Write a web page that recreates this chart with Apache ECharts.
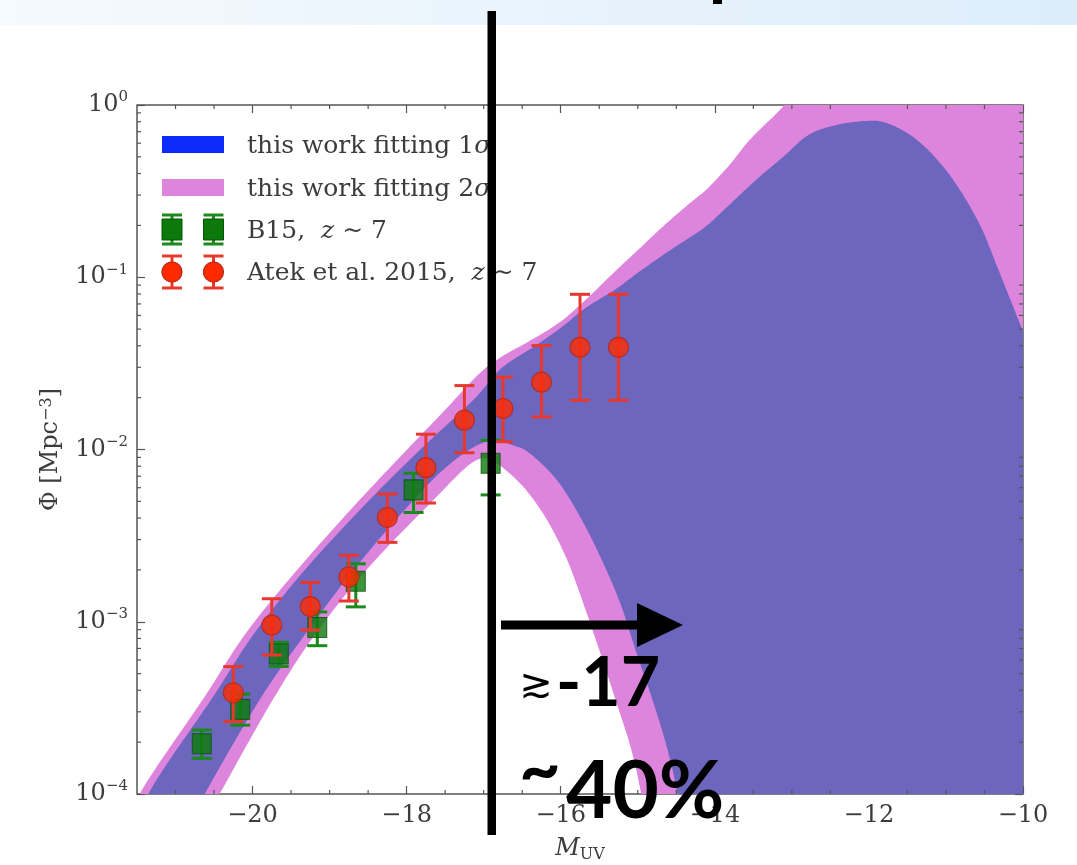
<!DOCTYPE html>
<html><head><meta charset="utf-8">
<script src="https://cdn.jsdelivr.net/npm/echarts@6/dist/echarts.min.js"></script>
<style>html,body{margin:0;padding:0;background:#fff}#c{width:1077px;height:865px}</style>
</head><body><div id="c"></div><script>
// ---------------- data ----------------
const xTickValues = [-20, -18, -16, -14, -12, -10];
const xMinorTickValues = [-21, -20.5, -19.5, -19, -18.5, -17.5, -17, -16.5, -15.5, -15, -14.5, -13.5, -13, -12.5, -11.5, -11, -10.5];

// Atek et al. 2015, z~7
const atekM   = [-20.25, -19.75, -19.25, -18.75, -18.25, -17.75, -17.25, -16.75, -16.25, -15.75, -15.25];
const atekPhi = [3.87e-4, 9.55e-4, 1.225e-3, 1.82e-3, 4.03e-3, 7.84e-3, 1.48e-2, 1.73e-2, 2.46e-2, 3.92e-2, 3.92e-2];
const atekLo  = [2.64e-4, 6.41e-4, 8.95e-4, 1.32e-3, 2.89e-3, 4.89e-3, 9.57e-3, 1.11e-2, 1.545e-2, 1.93e-2, 1.93e-2];
const atekHi  = [5.49e-4, 1.36e-3, 1.69e-3, 2.43e-3, 5.51e-3, 1.227e-2, 2.35e-2, 2.63e-2, 4.01e-2, 7.96e-2, 7.96e-2];

// B15, z~7
const b15M   = [-20.66, -20.16, -19.66, -19.16, -18.66, -17.91, -16.91];
const b15Phi = [1.96e-4, 3.1e-4, 6.5e-4, 9.27e-4, 1.72e-3, 5.83e-3, 8.31e-3];
const b15Lo  = [1.61e-4, 2.51e-4, 5.5e-4, 7.26e-4, 1.22e-3, 4.31e-3, 5.45e-3];
const b15Hi  = [2.35e-4, 3.8e-4, 7.6e-4, 1.14e-3, 2.17e-3, 7.28e-3, 1.13e-2];

// fitted bands [M_UV, Phi]
const band2Upper = [[-21.7,6.2e-5],[-21.37,1.18e-4],[-20.64,3.57e-4],[-20.08,8.67e-4],[-19.38,2.10e-3],[-18.61,5.10e-3],[-18.0,9.93e-3],[-17.5,1.70e-2],[-17.06,2.75e-2],[-16.78,3.43e-2],[-16.36,4.38e-2],[-15.99,5.58e-2],[-15.67,7.45e-2],[-15.29,0.1086],[-14.97,0.148],[-14.60,0.211],[-14.27,0.282],[-14.09,0.329],[-13.81,0.449],[-13.53,0.640],[-13.16,0.931],[-12.8,1.4],[-12.0,2.5],[-9.5,3.0]];
const band2Lower = [[-21.7,1e-6],[-20.8,4.8e-5],[-20.4,1.05e-4],[-19.73,3.57e-4],[-19.17,8.67e-4],[-18.48,2.10e-3],[-17.65,5.10e-3],[-17.22,7.94e-3],[-17.0,8.91e-3],[-16.83,8.32e-3],[-16.49,6.10e-3],[-16.18,3.91e-3],[-15.92,2.30e-3],[-15.71,1.29e-3],[-15.49,6.65e-4],[-15.28,3.42e-4],[-15.10,1.92e-4],[-14.97,1.08e-4],[-14.8,4.0e-5],[-14.5,6.3e-6],[-14.0,3.2e-7],[-9.5,1e-9]];
const band1Upper = [[-21.7,5.0e-5],[-21.26,1.18e-4],[-20.53,3.57e-4],[-19.97,8.67e-4],[-19.28,2.10e-3],[-18.48,5.10e-3],[-17.83,9.93e-3],[-17.14,1.93e-2],[-16.78,2.94e-2],[-16.36,3.92e-2],[-15.99,5.12e-2],[-15.67,6.67e-2],[-15.29,8.51e-2],[-14.97,0.1086],[-14.60,0.1416],[-14.27,0.1766],[-14.09,0.2018],[-13.81,0.2636],[-13.44,0.3758],[-13.11,0.501],[-12.79,0.668],[-12.42,0.766],[-12.0,0.81],[-11.77,0.785],[-11.49,0.682],[-11.21,0.536],[-10.89,0.359],[-10.56,0.2018],[-10.33,0.1135],[-10.14,0.0697],[-10.0,0.0489],[-9.5,0.015]];
const band1Lower = [[-21.7,1e-6],[-21.0,4.5e-5],[-20.62,1.0e-4],[-19.90,3.57e-4],[-19.30,8.67e-4],[-18.65,2.10e-3],[-17.91,5.10e-3],[-17.48,7.94e-3],[-17.1,1.05e-2],[-16.85,1.12e-2],[-16.6,1.05e-2],[-16.40,9.48e-3],[-16.05,6.65e-3],[-15.75,4.08e-3],[-15.49,2.40e-3],[-15.23,1.29e-3],[-15.02,6.65e-4],[-14.80,3.42e-4],[-14.63,1.92e-4],[-14.50,1.08e-4],[-14.35,4.0e-5],[-14.0,3.2e-6],[-9.5,1e-9]];

// ---------------- helpers ----------------
const SERIF = 'DejaVu Serif';
const AX = '#555';
const TXT = '#3c3c3c';
const yMinor = [];
for (let k = -4; k < 0; k++) for (let m = 2; m <= 9; m++) yMinor.push(m * Math.pow(10, k));

// Catmull-Rom smoothing of a pixel polyline (rendering only)
function smoothPx(p) {
  const out = [];
  const n = p.length;
  for (let i = 0; i < n - 1; i++) {
    const p0 = p[Math.max(i - 1, 0)], p1 = p[i], p2 = p[i + 1], p3 = p[Math.min(i + 2, n - 1)];
    const steps = 10;
    for (let s = 0; s < steps; s++) {
      const t = s / steps, t2 = t * t, t3 = t2 * t;
      const f = (a, b, c, d) => 0.5 * ((2 * b) + (-a + c) * t + (2 * a - 5 * b + 4 * c - d) * t2 + (-a + 3 * b - 3 * c + d) * t3);
      out.push([f(p0[0], p1[0], p2[0], p3[0]), f(p0[1], p1[1], p2[1], p3[1])]);
    }
  }
  out.push(p[n - 1]);
  return out;
}
function bandSeries(name, upper, lower, color, z) {
  const pts = upper.concat(lower.slice().reverse());
  return {
    type: 'custom', name: name, z: z, silent: true, clip: true,
    data: pts, encode: { x: 0, y: 1 },
    renderItem: function (params, api) {
      if (params.dataIndex !== 0) return null;
      const up = smoothPx(upper.map(p => api.coord(p)));
      const lo = smoothPx(lower.map(p => api.coord(p))).reverse();
      return { type: 'polygon', shape: { points: up.concat(lo) }, style: { fill: color } };
    }
  };
}
function errSeries(name, xs, lo, hi, color, z) {
  return {
    type: 'custom', name: name, z: z, silent: true,
    data: xs.map((m, i) => [m, lo[i], hi[i]]), encode: { x: 0, y: [1, 2] },
    renderItem: function (params, api) {
      const m = api.value(0);
      const a = api.coord([m, api.value(1)]), b = api.coord([m, api.value(2)]);
      const st = { stroke: color, lineWidth: 3 };
      return { type: 'group', children: [
        { type: 'line', shape: { x1: a[0], y1: a[1], x2: b[0], y2: b[1] }, style: st },
        { type: 'line', shape: { x1: a[0] - 10, y1: a[1], x2: a[0] + 10, y2: a[1] }, style: st },
        { type: 'line', shape: { x1: b[0] - 10, y1: b[1], x2: b[0] + 10, y2: b[1] }, style: st }
      ] };
    }
  };
}
const minorData = xMinorTickValues.map(v => [v, 1e-4, 0]).concat(yMinor.map(v => [-21.5, v, 1]));
const minorTicks = {
  type: 'custom', name: 'minor ticks', z: 20, silent: true,
  data: minorData, encode: { x: 0, y: 1 },
  renderItem: function (params, api) {
    const cs = params.coordSys;
    const st = { stroke: AX, lineWidth: 1.2 };
    const p = api.coord([api.value(0), api.value(1)]);
    if (api.value(2) === 0) {
      return { type: 'group', children: [
        { type: 'line', shape: { x1: p[0], y1: cs.y + cs.height, x2: p[0], y2: cs.y + cs.height - 4 }, style: st },
        { type: 'line', shape: { x1: p[0], y1: cs.y, x2: p[0], y2: cs.y + 4 }, style: st }
      ] };
    }
    return { type: 'group', children: [
      { type: 'line', shape: { x1: cs.x, y1: p[1], x2: cs.x + 4, y2: p[1] }, style: st },
      { type: 'line', shape: { x1: cs.x + cs.width, y1: p[1], x2: cs.x + cs.width - 4, y2: p[1] }, style: st }
    ] };
  }
};
function fmtPow(v) {
  const e = Math.round(Math.log10(v));
  return '{b|10}{s|' + (e < 0 ? '\u2212' + (-e) : e) + '}';
}
const tickStyle = { color: AX, width: 1.2 };

// ---------------- legend (drawn) ----------------
const LG = '#1a8a1a', LR = '#e8382e';
const legendEls = [
  { type: 'rect', shape: { x: 162, y: 136, width: 62, height: 17 }, style: { fill: '#0b2bfb' } },
  { type: 'rect', shape: { x: 162, y: 179, width: 62, height: 17 }, style: { fill: '#dd85dd' } }
];
[172, 213.5].forEach(cx => {
  legendEls.push(
    { type: 'line', shape: { x1: cx, y1: 215, x2: cx, y2: 244 }, style: { stroke: LG, lineWidth: 3 } },
    { type: 'line', shape: { x1: cx - 10, y1: 215, x2: cx + 10, y2: 215 }, style: { stroke: LG, lineWidth: 3 } },
    { type: 'line', shape: { x1: cx - 10, y1: 244, x2: cx + 10, y2: 244 }, style: { stroke: LG, lineWidth: 3 } },
    { type: 'rect', shape: { x: cx - 10, y: 219, width: 20, height: 21 }, style: { fill: '#0b7a0b', stroke: '#075207', lineWidth: 1 } },
    { type: 'line', shape: { x1: cx, y1: 256, x2: cx, y2: 288 }, style: { stroke: LR, lineWidth: 3 } },
    { type: 'line', shape: { x1: cx - 10, y1: 256, x2: cx + 10, y2: 256 }, style: { stroke: LR, lineWidth: 3 } },
    { type: 'line', shape: { x1: cx - 10, y1: 288, x2: cx + 10, y2: 288 }, style: { stroke: LR, lineWidth: 3 } },
    { type: 'circle', shape: { cx: cx, cy: 272, r: 10 }, style: { fill: '#ff2a00', stroke: '#b02818', lineWidth: 1.2 } }
  );
});
const lgRich = { i: { fontFamily: SERIF, fontSize: 25, fontStyle: 'italic', fill: TXT } };
[['this work fitting 1{i|σ}', 146], ['this work fitting 2{i|σ}', 189], ['B15,  {i|z} \u223C 7', 231], ['Atek et al. 2015,  {i|z} \u223C 7', 273]].forEach(t => {
  legendEls.push({ type: 'text', x: 247, y: t[1], style: { text: t[0], font: '25px "DejaVu Serif"', fill: TXT, verticalAlign: 'middle', rich: lgRich } });
});
legendEls.forEach(e => { e.z = 50; });

// ---------------- annotations ----------------
const annot = [
  { type: 'rect', shape: { x: 487.5, y: 11, width: 8.5, height: 824 }, style: { fill: '#000' } },
  { type: 'rect', shape: { x: 713, y: 0, width: 9, height: 4 }, style: { fill: '#000' } },
  { type: 'rect', shape: { x: 501, y: 620.5, width: 140, height: 9 }, style: { fill: '#000' } },
  { type: 'polygon', shape: { points: [[637, 603], [683, 625], [637, 647]] }, style: { fill: '#000' } },
  { type: 'text', x: 536, y: 687, style: { text: '\u2273', font: '40px "DejaVu Sans"', fill: '#000', align: 'center', verticalAlign: 'middle' } },
  { type: 'text', x: 556, y: 684, style: { text: '-17', font: 'bold 68px Lato', fill: '#000', align: 'left', verticalAlign: 'middle' } },
  { type: 'text', x: 540, y: 771, style: { text: '~', font: 'bold 72px Lato', fill: '#000', align: 'center', verticalAlign: 'middle' } },
  { type: 'text', x: 566, y: 792, style: { text: '40%', font: 'bold 80px Lato', fill: '#000', align: 'left', verticalAlign: 'middle' } }
];
annot.forEach(e => { e.z = 100; });

const chart = echarts.init(document.getElementById('c'), null, { renderer: 'canvas' });
chart.setOption({
  animation: false,
  backgroundColor: '#fff',
  grid: { left: 137, right: 54, top: 105, bottom: 71, show: true, borderColor: AX, borderWidth: 1.5, backgroundColor: 'transparent', outerBoundsMode: 'none', containLabel: false },
  xAxis: [{
    type: 'value', min: -21.5, max: -10, position: 'bottom',
    axisLine: { show: false }, splitLine: { show: false },
    axisTick: { inside: true, length: 8, customValues: xTickValues, lineStyle: tickStyle },
    axisLabel: { customValues: xTickValues, margin: 10, fontFamily: SERIF, fontSize: 24, color: TXT,
      formatter: v => (v < 0 ? '\u2212' : '') + Math.abs(v) },
    name: '{m|M}{u|UV}', nameLocation: 'middle', nameGap: 40,
    nameTextStyle: { rich: {
      m: { fontFamily: SERIF, fontSize: 24, fontStyle: 'italic', color: TXT, lineHeight: 26, verticalAlign: 'top' },
      u: { fontFamily: SERIF, fontSize: 16, color: TXT, lineHeight: 16, padding: [14, 0, 0, 0], verticalAlign: 'bottom' } } }
  }, {
    type: 'value', min: -21.5, max: -10, position: 'top',
    axisLine: { show: false }, splitLine: { show: false },
    axisTick: { inside: true, length: 8, customValues: xTickValues, lineStyle: tickStyle },
    axisLabel: { show: false }
  }],
  yAxis: [{
    type: 'log', logBase: 10, min: 1e-4, max: 1, splitNumber: 4, position: 'left',
    axisLine: { show: false }, splitLine: { show: false },
    axisTick: { inside: true, length: 8, lineStyle: tickStyle },
    axisLabel: { margin: 9, formatter: fmtPow, rich: {
      b: { fontFamily: SERIF, fontSize: 24, color: TXT, lineHeight: 30 },
      s: { fontFamily: SERIF, fontSize: 15, color: TXT, verticalAlign: 'top' } } },
    name: '\u03A6 [Mpc{s|\u22123}]', nameLocation: 'middle', nameRotate: 90, nameGap: 74,
    nameTextStyle: { fontFamily: SERIF, fontSize: 24, color: TXT, rich: {
      s: { fontFamily: SERIF, fontSize: 16, color: TXT, verticalAlign: 'top' } } }
  }, {
    type: 'log', logBase: 10, min: 1e-4, max: 1, splitNumber: 4, position: 'right',
    axisLine: { show: false }, splitLine: { show: false },
    axisTick: { inside: true, length: 8, lineStyle: tickStyle },
    axisLabel: { show: false }
  }],
  series: [
    bandSeries('this work fitting 2σ', band2Upper, band2Lower, '#dd85dd', 1),
    bandSeries('this work fitting 1σ', band1Upper, band1Lower, '#6d66bf', 2),
    errSeries('B15 error', b15M, b15Lo, b15Hi, LG, 3),
    { type: 'scatter', name: 'B15, z ∼ 7', z: 4, symbol: 'rect', symbolSize: [19, 20],
      data: b15M.map((m, i) => [m, b15Phi[i]]),
      itemStyle: { color: '#0b7a0b', borderColor: '#075207', borderWidth: 1 } },
    errSeries('Atek error', atekM, atekLo, atekHi, LR, 5),
    { type: 'scatter', name: 'Atek et al. 2015, z ∼ 7', z: 6, symbol: 'circle', symbolSize: 20,
      data: atekM.map((m, i) => [m, atekPhi[i]]),
      itemStyle: { color: '#ff2a00', borderColor: '#b02818', borderWidth: 1.2 } },
    minorTicks
  ],
  graphic: [
    { type: 'rect', z: -10, shape: { x: 0, y: 0, width: 1077, height: 25 },
      style: { fill: new echarts.graphic.LinearGradient(0, 0, 1, 0, [{ offset: 0, color: '#f5fafe' }, { offset: 1, color: '#dcedfa' }]) } }
  ].concat(legendEls).concat(annot)
});
</script></body></html>
